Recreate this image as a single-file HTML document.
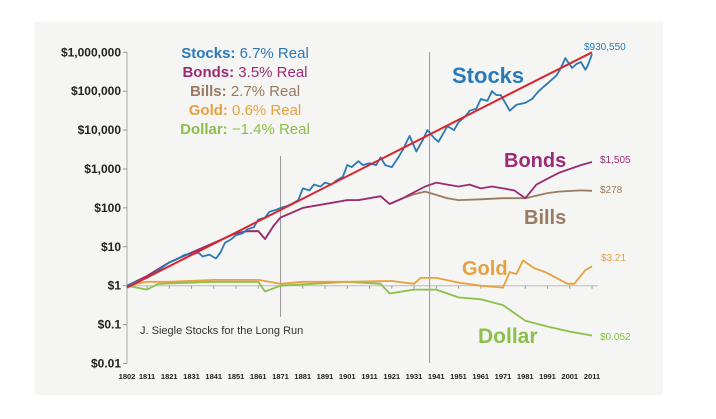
<!DOCTYPE html>
<html><head><meta charset="utf-8">
<style>
html,body{margin:0;padding:0;background:#fff;}
svg{display:block;font-family:"Liberation Sans",sans-serif;}
</style></head>
<body>
<svg id="chart" width="716" height="419" viewBox="0 0 716 419">
<rect x="35" y="22" width="628" height="373" fill="#f5f5f3"/>
<g id="axes"></g>
<g id="series"></g>
<g id="labels"></g>
</svg>
<script>
const yTicks=[6,5,4,3,2,1,0,-1,-2];
const yTickLabels=["$1,000,000","$100,000","$10,000","$1,000","$100","$10","$1","$0.1","$0.01"];
const xTickYears=[1802,1811,1821,1831,1841,1851,1861,1871,1881,1891,1901,1911,1921,1931,1941,1951,1961,1971,1981,1991,2001,2011];
const stocksYears=[1802,1806,1811,1815,1821,1825,1828,1831,1834,1836,1839,1842,1844,1846,1849,1851,1854,1856,1859,1861,1864,1866,1869,1871,1874,1876,1879,1881,1884,1886,1889,1891,1894,1896,1899,1901,1903,1906,1908,1911,1914,1916,1918,1921,1924,1926,1929,1932,1935,1937,1940,1942,1946,1949,1951,1954,1956,1959,1961,1964,1966,1968,1970,1974,1977,1981,1984,1987,1991,1995,1997,1999,2002,2004,2006,2008,2009,2011];
const stocksValues=[0,0.1,0.2,0.35,0.6,0.7,0.8,0.8,0.85,0.75,0.8,0.7,0.85,1.1,1.2,1.3,1.35,1.45,1.5,1.7,1.75,1.9,1.95,2.0,2.05,2.1,2.2,2.5,2.45,2.6,2.55,2.65,2.6,2.7,2.8,3.1,3.05,3.2,3.1,3.15,3.1,3.3,3.1,3.05,3.3,3.5,3.85,3.45,3.75,4.0,3.8,3.7,4.1,4.0,4.2,4.35,4.5,4.55,4.8,4.75,5.0,4.9,4.9,4.5,4.65,4.7,4.8,5.0,5.2,5.4,5.6,5.85,5.6,5.7,5.75,5.55,5.65,5.95];
const bondsYears=[1802,1811,1821,1831,1841,1851,1856,1861,1864,1868,1871,1881,1891,1901,1906,1916,1920,1926,1931,1936,1941,1946,1951,1956,1961,1966,1971,1976,1981,1986,1991,1996,2001,2006,2011];
const bondsValues=[0,0.25,0.6,0.85,1.1,1.35,1.4,1.4,1.2,1.55,1.75,2.0,2.1,2.2,2.2,2.3,2.1,2.25,2.4,2.55,2.65,2.6,2.55,2.6,2.5,2.55,2.5,2.45,2.25,2.6,2.75,2.9,3.0,3.1,3.18];
const billsYears=[1802,1811,1821,1831,1841,1851,1856,1861,1864,1868,1871,1881,1891,1901,1906,1916,1920,1926,1931,1936,1946,1951,1961,1971,1981,1991,1996,2006,2011];
const billsValues=[0,0.25,0.6,0.85,1.1,1.35,1.4,1.4,1.2,1.55,1.75,2.0,2.1,2.2,2.2,2.3,2.1,2.25,2.35,2.42,2.25,2.2,2.22,2.25,2.25,2.38,2.42,2.45,2.44];
const goldYears=[1802,1811,1821,1841,1861,1871,1881,1901,1921,1931,1934,1941,1951,1961,1971,1974,1977,1980,1985,1990,2000,2003,2008,2011];
const goldValues=[0,0.1,0.1,0.15,0.15,0.05,0.1,0.1,0.12,0.05,0.2,0.2,0.08,0.0,-0.05,0.35,0.3,0.65,0.45,0.35,0.05,0.05,0.4,0.5];
const dollarYears=[1802,1811,1816,1841,1861,1864,1871,1901,1916,1920,1931,1941,1951,1961,1971,1981,1991,2001,2011];
const dollarValues=[0,-0.1,0.05,0.1,0.1,-0.15,0,0.1,0.05,-0.2,-0.1,-0.1,-0.3,-0.35,-0.5,-0.9,-1.05,-1.18,-1.28];
const trendYears=[1802,2011];
const trendValues=[-0.05,6.0];

const NS="http://www.w3.org/2000/svg";
function X(yr){return 127+(yr-1802)*2.225;}
function Y(v){return 285.7-v*38.9;}
function mk(tag,attrs,parent,text){const e=document.createElementNS(NS,tag);for(const k in attrs)e.setAttribute(k,attrs[k]);if(text!==undefined)e.textContent=text;parent.appendChild(e);return e;}
const axes=document.getElementById('axes'),series=document.getElementById('series'),labels=document.getElementById('labels');

let a=mk('line',{x1:127,y1:Y(6),x2:127,y2:Y(-2),stroke:'#aaa','stroke-width':1},axes);


let b=mk('line',{x1:127,y1:Y(0),x2:598,y2:Y(0),stroke:'#bbb','stroke-width':1},axes);


yTicks.forEach((t,i)=>{
  const tk=mk('line',{x1:123,y1:Y(t),x2:127,y2:Y(t),stroke:'#999'},axes);
  
  
  const tx=mk('text',{x:121,y:Y(t)+4,'text-anchor':'end','font-size':12,'font-weight':'bold',fill:'#222'},axes,yTickLabels[i]);
  
  
});
xTickYears.forEach(yr=>{
  const tx=mk('text',{x:X(yr),y:379,'text-anchor':'middle','font-size':7.5,'font-weight':'bold',fill:'#222'},axes,String(yr));
  
  
  const tk=mk('line',{x1:X(yr),y1:Y(0),x2:X(yr),y2:Y(0)+3,stroke:'#999'},axes);
  
  
});
let v1=mk('line',{x1:X(1871),y1:156,x2:X(1871),y2:317,stroke:'#999'},axes);


let v2=mk('line',{x1:X(1938),y1:52,x2:X(1938),y2:363,stroke:'#999'},axes);



function line(yrs,vals,color,name,w){
  const d=yrs.map((yr,i)=>(i?'L':'M')+X(yr).toFixed(1)+','+Y(vals[i]).toFixed(1)).join('');
  const p=mk('path',{d:d,fill:'none',stroke:color,'stroke-width':w||1.8,'stroke-linejoin':'round'},series);
  
  
}
line(dollarYears,dollarValues,'#8cc04a','dollar-line');
line(goldYears,goldValues,'#e8a040','gold-line');
line(billsYears,billsValues,'#9a7a60','bills-line');
line(bondsYears,bondsValues,'#9b2c73','bonds-line');
line(stocksYears,stocksValues,'#2a7ab8','stocks-line');
line(trendYears,trendValues,'#d8262f','trend-line',2);

function txt(x,y,s,size,color,weight,name,anchor){
  const t=mk('text',{x:x,y:y,'font-size':size,fill:color,'font-weight':weight||'normal','text-anchor':anchor||'start'},labels,s);
  
  
  return t;
}
const legend=[["Stocks:"," 6.7% Real","#2a7ab8",58],["Bonds:"," 3.5% Real","#9b2c73",77],["Bills:"," 2.7% Real","#9a7a60",96],["Gold:"," 0.6% Real","#e8a040",115],["Dollar:"," \u22121.4% Real","#8cc04a",134]];
legend.forEach(l=>{
  const t=mk('text',{x:245,y:l[3],'font-size':15,'text-anchor':'middle',fill:l[2]},labels);
  
  
  mk('tspan',{'font-weight':'bold'},t,l[0]);
  mk('tspan',{},t,l[1]);
});
txt(452,83,'Stocks',22,'#2a7ab8','bold','stocks-label');
txt(504,167,'Bonds',20,'#9b2c73','bold','bonds-label');
txt(524,224,'Bills',20,'#9a7a60','bold','bills-label');
txt(462,275,'Gold',20,'#e8a040','bold','gold-label');
txt(478,343,'Dollar',21,'#8cc04a','bold','dollar-label');
txt(584,50,'$930,550',10,'#2a7ab8','normal','stocks-end-value');
txt(600,163,'$1,505',10,'#9b2c73','normal','bonds-end-value');
txt(600,193,'$278',10,'#9a7a60','normal','bills-end-value');
txt(601,261,'$3.21',10,'#e8a040','normal','gold-end-value');
txt(600,340,'$0.052',10,'#8cc04a','normal','dollar-end-value');
txt(140,334,'J. Siegle Stocks for the Long Run',11,'#333','normal','source-note');
</script>
</body></html>
